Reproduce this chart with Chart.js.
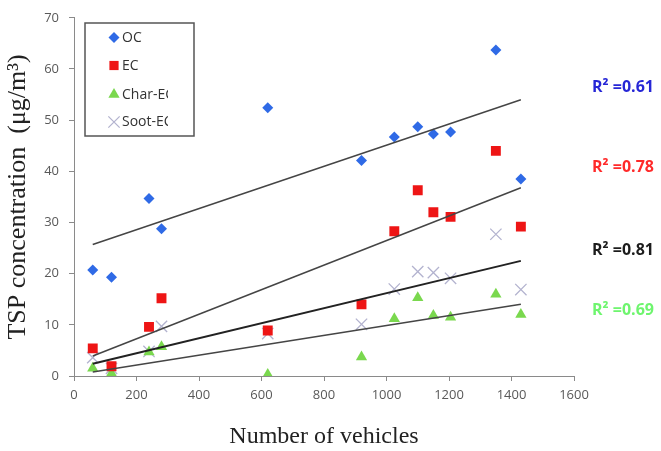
<!DOCTYPE html>
<html>
<head>
<meta charset="utf-8">
<script src="https://cdn.jsdelivr.net/npm/chart.js@4.4.1/dist/chart.umd.min.js"></script>
<style>
  html, body { margin: 0; padding: 0; background: #ffffff; }
  #wrap { width: 661px; height: 451px; position: relative; }
</style>
</head>
<body>
<div id="wrap"><canvas id="c" width="661" height="451"></canvas></div>
<script>
// ---- data ----
const vehicles = [60, 120, 240, 280, 620, 920, 1025, 1100, 1150, 1205, 1350, 1430];
const ocValues   = [20.7, 19.3, 34.7, 28.8, 52.4, 42.1, 46.7, 48.7, 47.3, 47.7, 63.7, 38.5];
const ecValues   = [5.4, 1.9, 9.6, 15.2, 8.9, 14.0, 28.3, 36.3, 32.0, 31.1, 44.0, 29.2];
const charValues = [1.5, 0.5, 4.7, 5.7, 0.3, 3.7, 11.2, 15.3, 11.8, 11.5, 16.0, 12.0];
const sootValues = [3.6, 1.5, 4.8, 9.7, 8.3, 10.1, 17.0, 20.4, 20.2, 19.1, 27.7, 16.9];

// trend line end values (at first and last vehicle count)
const trendX    = [60, 1430];
const trendOC   = [25.7, 54.0];
const trendEC   = [3.9, 36.8];
const trendSoot = [2.4, 22.5];
const trendChar = [0.8, 14.0];

const seriesNames = ['OC', 'EC', 'Char-EC', 'Soot-EC'];
const r2Labels = ['R\u00B2 =0.61', 'R\u00B2 =0.78', 'R\u00B2 =0.81', 'R\u00B2 =0.69'];
const xTicks = [0, 200, 400, 600, 800, 1000, 1200, 1400, 1600];
const yTicks = [0, 10, 20, 30, 40, 50, 60, 70];

// ---- styling ----
const COL_OC = '#2f6ae6', COL_EC = '#ee1515', COL_CHAR = '#7ad84e', COL_SOOT = '#b3b3cf';
const AXIS = '#8a8a8a';

const pts = (ys) => vehicles.map((x, i) => ({ x: x, y: ys[i] }));
const tline = (ys) => trendX.map((x, i) => ({ x: x, y: ys[i] }));

const markerStyles = [
  { pointStyle: 'rectRot', radius: 5.5, backgroundColor: COL_OC, borderColor: COL_OC, borderWidth: 0 },
  { pointStyle: 'rect', radius: 7, backgroundColor: COL_EC, borderColor: COL_EC, borderWidth: 0 },
  { pointStyle: 'triangle', radius: 6.5, backgroundColor: COL_CHAR, borderColor: COL_CHAR, borderWidth: 0 },
  { pointStyle: 'crossRot', radius: 8, backgroundColor: COL_SOOT, borderColor: COL_SOOT, borderWidth: 1.3 }
];

function scatterDs(label, data, st, order) {
  return {
    type: 'scatter', label: label, data: data, order: order,
    pointStyle: st.pointStyle, pointRadius: st.radius, pointHoverRadius: st.radius,
    pointBackgroundColor: st.backgroundColor, pointBorderColor: st.borderColor,
    pointBorderWidth: st.borderWidth, showLine: false
  };
}
function lineDs(data, color, width) {
  return {
    type: 'line', label: 'trend', data: data, order: 0,
    borderColor: color, borderWidth: width, pointRadius: 0, fill: false, tension: 0
  };
}

const legendPlugin = {
  id: 'customLegend',
  afterDraw(chart) {
    const ctx = chart.ctx;
    // legend box
    const bx = 85, by = 23, bw = 109, bh = 113;
    ctx.save();
    ctx.strokeStyle = '#555555';
    ctx.lineWidth = 1.5;
    ctx.strokeRect(bx, by, bw, bh);
    const rows = [37.5, 65.5, 94.5, 122];
    ctx.beginPath();
    ctx.rect(bx + 1, by + 1, 82, bh - 2);
    ctx.clip();
    seriesNames.forEach((name, i) => {
      const st = markerStyles[i];
      ctx.save();
      ctx.fillStyle = st.backgroundColor;
      ctx.strokeStyle = st.borderColor;
      ctx.lineWidth = st.borderWidth || 1;
      const r = i === 1 ? 6.5 : (i === 3 ? 8 : st.radius);
      Chart.helpers.drawPoint(ctx, { pointStyle: st.pointStyle, radius: r, rotation: 0, borderWidth: st.borderWidth }, 114, rows[i]);
      ctx.restore();
      ctx.fillStyle = '#333333';
      ctx.font = '14px "Open Sans"';
      ctx.textBaseline = 'middle';
      ctx.textAlign = 'left';
      ctx.fillText(name, 122, rows[i] + 0.5);
    });
    ctx.restore();

    // R² labels
    const rCols = ['#2626d6', '#ff2a2a', '#1c1c1c', '#6ef56e'];
    const rY = [87, 167, 250, 310];
    ctx.save();
    ctx.font = 'bold 16px "Open Sans"';
    ctx.textBaseline = 'middle';
    ctx.textAlign = 'left';
    r2Labels.forEach((t, i) => {
      ctx.fillStyle = rCols[i];
      ctx.fillText(t, 592, rY[i]);
    });
    ctx.restore();
  }
};

new Chart(document.getElementById('c'), {
  data: {
    datasets: [
      lineDs(tline(trendOC), '#454545', 1.5),
      lineDs(tline(trendEC), '#454545', 1.5),
      lineDs(tline(trendSoot), '#222222', 2),
      lineDs(tline(trendChar), '#454545', 1.5),
      scatterDs(seriesNames[0], pts(ocValues), markerStyles[0], 1),
      scatterDs(seriesNames[1], pts(ecValues), markerStyles[1], 2),
      scatterDs(seriesNames[2], pts(charValues), markerStyles[2], 3),
      scatterDs(seriesNames[3], pts(sootValues), markerStyles[3], 4)
    ]
  },
  options: {
    responsive: false,
    animation: false,
    events: [],
    layout: { padding: { left: 0, right: 87, top: 15, bottom: 0 } },
    plugins: { legend: { display: false }, tooltip: { enabled: false } },
    scales: {
      x: {
        type: 'linear', min: 0, max: 1600,
        afterBuildTicks: (s) => { s.ticks = xTicks.map(v => ({ value: v })); },
        afterFit: (s) => { s.height = 75; },
        grid: { display: true, drawOnChartArea: false, drawTicks: true, tickLength: 5, color: AXIS },
        border: { display: true, color: AXIS, width: 1 },
        ticks: { color: '#595959', font: { family: 'Open Sans', size: 13 }, padding: 6, maxRotation: 0,
                 callback: (v) => String(v) },
        title: { display: true, text: 'Number of vehicles', color: '#222222',
                 font: { family: 'Liberation Serif', size: 24 }, padding: { top: 0, bottom: 0 } }
      },
      y: {
        type: 'linear', min: 0, max: 70,
        afterBuildTicks: (s) => { s.ticks = yTicks.map(v => ({ value: v })); },
        afterFit: (s) => { s.width = 74; },
        grid: { display: true, drawOnChartArea: false, drawTicks: true, tickLength: 5, color: AXIS },
        border: { display: true, color: AXIS, width: 1 },
        ticks: { color: '#595959', font: { family: 'Open Sans', size: 13 }, padding: 10,
                 callback: (v) => String(v) },
        title: { display: true, text: 'TSP concentration  (\u03BCg/m\u00B3)', color: '#222222',
                 font: { family: 'Liberation Serif', size: 26 }, padding: { top: 3, bottom: 0 } }
      }
    }
  },
  plugins: [legendPlugin]
});
</script>
</body>
</html>
